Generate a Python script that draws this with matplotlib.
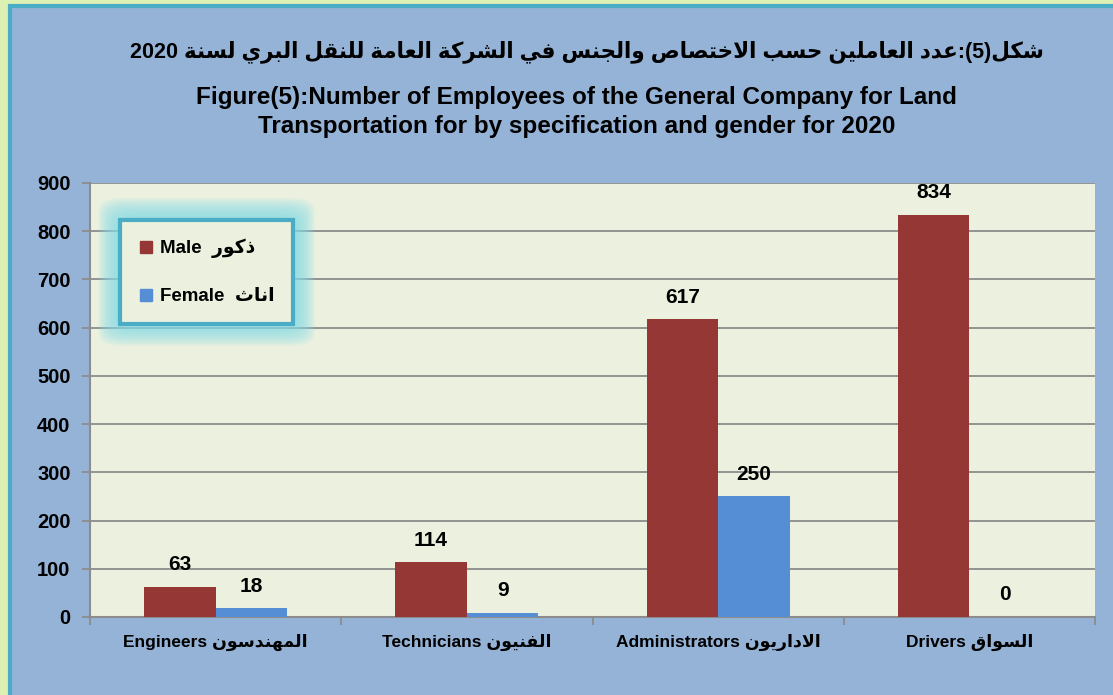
import re
import matplotlib
matplotlib.use('Agg')
import matplotlib.pyplot as plt
from matplotlib.patches import Rectangle, FancyBboxPatch
from matplotlib.lines import Line2D
import numpy as np

# data
categories_en = ['Engineers', 'Technicians', 'Administrators', 'Drivers']
categories_ar = ['المهندسون', 'الفنيون', 'الاداريون', 'السواق']
male = [63, 114, 617, 834]
female = [18, 9, 250, 0]
title_ar = 'شكل(5):عدد العاملين حسب الاختصاص والجنس في الشركة العامة للنقل البري لسنة 2020'
title_en = 'Figure(5):Number of Employees of the General Company for Land\nTransportation for by specification and gender for 2020'
legend_en = ['Male', 'Female']
legend_ar = ['ذكور', 'اناث']

plt.rcParams['font.family'] = ['Liberation Sans', 'DejaVu Sans']
plt.rcParams['font.weight'] = 'bold'

# arabic shaping (presentation forms), matplotlib does no shaping itself
FORMS = {
    'ء': (0xFE80,), 'آ': (0xFE81, 0xFE82), 'أ': (0xFE83, 0xFE84), 'ؤ': (0xFE85, 0xFE86),
    'إ': (0xFE87, 0xFE88), 'ئ': (0xFE89, 0xFE8A, 0xFE8B, 0xFE8C), 'ا': (0xFE8D, 0xFE8E),
    'ب': (0xFE8F, 0xFE90, 0xFE91, 0xFE92), 'ة': (0xFE93, 0xFE94),
    'ت': (0xFE95, 0xFE96, 0xFE97, 0xFE98), 'ث': (0xFE99, 0xFE9A, 0xFE9B, 0xFE9C),
    'ج': (0xFE9D, 0xFE9E, 0xFE9F, 0xFEA0), 'ح': (0xFEA1, 0xFEA2, 0xFEA3, 0xFEA4),
    'خ': (0xFEA5, 0xFEA6, 0xFEA7, 0xFEA8), 'د': (0xFEA9, 0xFEAA), 'ذ': (0xFEAB, 0xFEAC),
    'ر': (0xFEAD, 0xFEAE), 'ز': (0xFEAF, 0xFEB0),
    'س': (0xFEB1, 0xFEB2, 0xFEB3, 0xFEB4), 'ش': (0xFEB5, 0xFEB6, 0xFEB7, 0xFEB8),
    'ص': (0xFEB9, 0xFEBA, 0xFEBB, 0xFEBC), 'ض': (0xFEBD, 0xFEBE, 0xFEBF, 0xFEC0),
    'ط': (0xFEC1, 0xFEC2, 0xFEC3, 0xFEC4), 'ظ': (0xFEC5, 0xFEC6, 0xFEC7, 0xFEC8),
    'ع': (0xFEC9, 0xFECA, 0xFECB, 0xFECC), 'غ': (0xFECD, 0xFECE, 0xFECF, 0xFED0),
    'ف': (0xFED1, 0xFED2, 0xFED3, 0xFED4), 'ق': (0xFED5, 0xFED6, 0xFED7, 0xFED8),
    'ك': (0xFED9, 0xFEDA, 0xFEDB, 0xFEDC), 'ل': (0xFEDD, 0xFEDE, 0xFEDF, 0xFEE0),
    'م': (0xFEE1, 0xFEE2, 0xFEE3, 0xFEE4), 'ن': (0xFEE5, 0xFEE6, 0xFEE7, 0xFEE8),
    'ه': (0xFEE9, 0xFEEA, 0xFEEB, 0xFEEC), 'و': (0xFEED, 0xFEEE), 'ى': (0xFEEF, 0xFEF0),
    'ي': (0xFEF1, 0xFEF2, 0xFEF3, 0xFEF4),
}
LAM_ALEF = {'آ': (0xFEF5, 0xFEF6), 'أ': (0xFEF7, 0xFEF8), 'إ': (0xFEF9, 0xFEFA), 'ا': (0xFEFB, 0xFEFC)}


def shape(text):
    out = []
    i = 0
    n = len(text)
    while i < n:
        c = text[i]
        if c not in FORMS:
            out.append(c)
            i += 1
            continue
        prev = text[i - 1] if i > 0 else ''
        joins_prev = prev in FORMS and len(FORMS[prev]) == 4
        if c == 'ل' and i + 1 < n and text[i + 1] in LAM_ALEF:
            f = LAM_ALEF[text[i + 1]]
            out.append(chr(f[1] if joins_prev else f[0]))
            i += 2
            continue
        nxt = text[i + 1] if i + 1 < n else ''
        f = FORMS[c]
        joins_next = len(f) == 4 and nxt in FORMS
        if not joins_prev or len(f) == 1:
            k = 2 if joins_next else 0
        else:
            k = 3 if joins_next else 1
        out.append(chr(f[k]))
        i += 1
    # visual order: reverse, keep latin/digit runs left-to-right, mirror brackets
    vis = ''.join(out)[::-1]
    vis = re.sub(r'[0-9A-Za-z]+', lambda m: m.group(0)[::-1], vis)
    return vis.translate(str.maketrans('()', ')('))


fig = plt.figure(figsize=(11.13, 6.95), dpi=100)
fig.patch.set_facecolor('#DDF0B4')
fig.patches.append(Rectangle((10 / 1113, -0.1), 1.2, 1.1 - 6 / 695,
                             transform=fig.transFigure, facecolor='#95B3D7',
                             edgecolor='#4BACC6', linewidth=3, zorder=-1))

ax = fig.add_axes([90 / 1113, 1 - 617 / 695, 1005 / 1113, 434 / 695])
ax.set_facecolor('#EBF1DE')

x = np.arange(len(categories_en))
w = 0.285
ax.bar(x - w / 2, male, w, color='#953735', zorder=3)
ax.bar(x + w / 2, female, w, color='#558ED5', zorder=3)

for xi, v in zip(x - w / 2, male):
    ax.annotate(str(v), (xi, v), xytext=(0, 9), textcoords='offset points',
                ha='center', va='bottom', fontsize=15, fontweight='bold')
for xi, v in zip(x + w / 2, female):
    ax.annotate(str(v), (xi, v), xytext=(0, 9), textcoords='offset points',
                ha='center', va='bottom', fontsize=15, fontweight='bold')

ax.set_xlim(-0.5, 3.5)
ax.set_ylim(0, 900)
ax.set_yticks(range(0, 901, 100))
ax.yaxis.grid(True, color='#8C8C8C', linewidth=1.3, zorder=1)
ax.set_axisbelow(True)
ax.tick_params(axis='y', length=6, width=1.3, color='#8C8C8C', labelsize=14.5, pad=8)

ax.set_xticks(np.arange(-0.5, 3.6, 1))
ax.set_xticklabels([])
ax.tick_params(axis='x', which='major', length=6, width=1.3, color='#8C8C8C')
ax.set_xticks(x, minor=True)
ax.set_xticklabels([f'{en} {shape(ar)}' for en, ar in zip(categories_en, categories_ar)],
                   minor=True, fontsize=12.5, fontweight='bold')
ax.tick_params(axis='x', which='minor', length=0, pad=12)
for lab in ax.get_yticklabels():
    lab.set_fontweight('bold')

for s in ['top', 'right']:
    ax.spines[s].set_visible(False)
for s in ['left', 'bottom']:
    ax.spines[s].set_color('#8C8C8C')
    ax.spines[s].set_linewidth(1.5)

# legend
handles = [Line2D([], [], marker='s', color='#953735', linestyle='None', markersize=8),
           Line2D([], [], marker='s', color='#558ED5', linestyle='None', markersize=8)]
labels = [f'{en}  {shape(ar)}' for en, ar in zip(legend_en, legend_ar)]
leg = ax.legend(handles, labels, loc='upper left', bbox_to_anchor=(0.03, 0.915),
                prop={'size': 13.5, 'weight': 'bold'}, frameon=True, fancybox=False,
                facecolor='#EBF1DE', edgecolor='#4BACC6', framealpha=1,
                borderpad=1.0, labelspacing=1.6, handlelength=0.8, handletextpad=0.3,
                borderaxespad=0)
leg.get_frame().set_linewidth(3)
leg.set_zorder(10)

# soft glow around the legend box
fig.canvas.draw()
bb = leg.get_frame().get_window_extent()
inv = fig.transFigure.inverted()
for k in range(14):
    d = 1 + k * 1.6
    (x0, y0), (x1, y1) = inv.transform([(bb.x0 - d, bb.y0 - d), (bb.x1 + d, bb.y1 + d)])
    glow = FancyBboxPatch((x0, y0), x1 - x0, y1 - y0,
                          boxstyle='round,pad=0,rounding_size=0.02',
                          transform=fig.transFigure, facecolor='#86DCEA',
                          edgecolor='none', alpha=0.11, zorder=5, clip_on=False)
    ax.add_artist(glow)

fig.text(0.527, 1 - 52 / 695, shape(title_ar), ha='center', va='center',
         fontsize=15.5, fontweight='bold')
fig.text(0.518, 1 - 112 / 695, title_en, ha='center', va='center',
         fontsize=17.5, fontweight='bold', linespacing=1.3)

fig.savefig('out.png', dpi=100, facecolor=fig.get_facecolor())
